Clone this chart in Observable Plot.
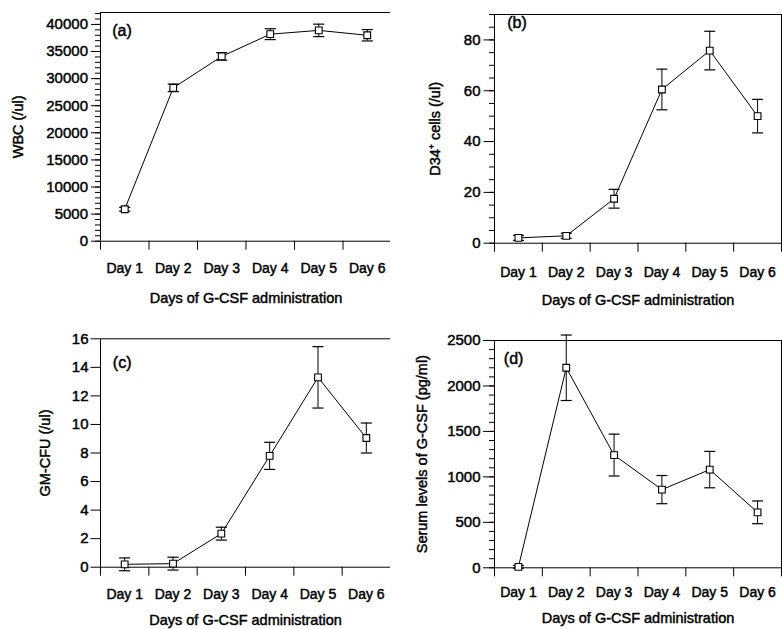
<!DOCTYPE html>
<html>
<head>
<meta charset="utf-8">
<script src="https://cdn.jsdelivr.net/npm/d3@7"></script>
<script src="https://cdn.jsdelivr.net/npm/@observablehq/plot@0.6"></script>
<style>
  html, body { margin: 0; padding: 0; background: #fff; }
  #chart { position: relative; width: 782px; height: 629px; background: #fff; overflow: hidden; }
  #chart > div { position: absolute; }
  #chart svg { overflow: visible; }
  #chart svg text { stroke: black; stroke-width: 0.45px; }
</style>
</head>
<body>
<div id="chart"></div>
<script>
// ---- data ----
const days = ["Day 1", "Day 2", "Day 3", "Day 4", "Day 5", "Day 6"];

const wbc    = [5900, 28300, 34100, 38200, 38900, 38000];
const wbcErr = [350, 700, 700, 1000, 1150, 1050];

const cd34    = [2.1, 2.9, 17.5, 60.5, 75.8, 50];
const cd34Err = [1.0, 1.0, 3.7, 8.0, 7.6, 6.6];

const gmcfu    = [0.2, 0.25, 2.35, 7.8, 13.3, 9.05];
const gmcfuErr = [0.45, 0.45, 0.45, 0.95, 2.15, 1.05];

const gcsf    = [10, 2200, 1240, 860, 1080, 610];
const gcsfErr = [15, 360, 230, 155, 200, 125];

const wbcTicks  = [0, 5000, 10000, 15000, 20000, 25000, 30000, 35000, 40000];
const cd34Ticks = [0, 20, 40, 60, 80];
const gmTicks   = [0, 2, 4, 6, 8, 10, 12, 14, 16];
const gcsfTicks = [0, 500, 1000, 1500, 2000, 2500];

const xTitle = "Days of G-CSF administration";

const font = "'Liberation Sans', Arial, Helvetica, sans-serif";

function panel(cfg) {
  const data = days.map((d, i) => ({day: d, x: i + 0.5, v: cfg.values[i], e: cfg.errs[i]}));
  const cap = 0.115;
  const marks = [
    Plot.frame({stroke: "black", strokeWidth: 1}),
    // minor y ticks
    ...(cfg.minor ? [Plot.axisY({ticks: cfg.minor, tickSize: 5, tickFormat: () => "", label: null})] : []),
    // major y ticks
    Plot.axisY({ticks: cfg.major, tickSize: cfg.tickSize, tickPadding: cfg.tickPad, tickFormat: d3.format("d"), label: null, fontSize: 15}),
    // x tick marks at band boundaries
    Plot.axisX({ticks: d3.range(0, days.length + 1), tickSize: 9, tickFormat: () => "", label: null}),
    // x category labels at band centers
    Plot.axisX({ticks: days.map((d, i) => i + 0.5), tickFormat: t => days[Math.floor(t)], tickSize: 0, tickPadding: cfg.xPad, label: null, fontSize: 14}),
    // error bars
    Plot.ruleX(data, {x: "x", y1: d => d.v - d.e, y2: d => d.v + d.e, stroke: "black", strokeWidth: 1}),
    Plot.link(data, {x1: d => d.x - cap, x2: d => d.x + cap, y1: d => d.v + d.e, y2: d => d.v + d.e, stroke: "black", strokeWidth: 1.2}),
    Plot.link(data, {x1: d => d.x - cap, x2: d => d.x + cap, y1: d => d.v - d.e, y2: d => d.v - d.e, stroke: "black", strokeWidth: 1.2}),
    // line and markers
    Plot.line(data, {x: "x", y: "v", stroke: "black", strokeWidth: 1}),
    Plot.dot(data, {x: "x", y: "v", symbol: "square", r: 3.8, fill: "white", stroke: "black", strokeWidth: 1.1}),
    // titles
    Plot.text([xTitle], {frameAnchor: "bottom", dy: cfg.titleDy, lineAnchor: "middle", fontSize: 14.5}),
    Plot.text([cfg.label], {frameAnchor: "left", dx: cfg.labelDx, rotate: -90, textAnchor: "middle", lineAnchor: "middle", fontSize: 14.5}),
    Plot.text([cfg.letter], {frameAnchor: "top-left", dx: cfg.letterDx, dy: cfg.letterDy, textAnchor: "start", lineAnchor: "middle", fontSize: 16})
  ];
  const svg = Plot.plot({
    width: cfg.width,
    height: cfg.height,
    marginLeft: cfg.ml, marginRight: cfg.mr, marginTop: cfg.mt, marginBottom: cfg.mb,
    x: {type: "linear", domain: [0, days.length]},
    y: {type: "linear", domain: cfg.domain},
    style: {fontFamily: font, fontSize: "14px", color: "black", background: "white", overflow: "visible"},
    marks
  });
  const wrap = document.createElement("div");
  wrap.style.left = cfg.left + "px";
  wrap.style.top = cfg.top + "px";
  wrap.appendChild(svg);
  document.getElementById("chart").appendChild(wrap);
}

panel({
  left: 0, top: 0, width: 400, height: 310, ml: 100, mr: 9, mt: 12, mb: 69.3,
  values: wbc, errs: wbcErr, domain: [0, 42200],
  major: wbcTicks, minor: d3.range(0, 42001, 1000), tickSize: 9, tickPad: 3.5,
  xPad: 22, titleDy: 57, label: "WBC (/ul)", labelDx: -82, letter: "(a)", letterDx: 11.7, letterDy: 18.7
});

panel({
  left: 390, top: 0, width: 392, height: 310, ml: 104, mr: 1, mt: 14, mb: 67.3,
  values: cd34, errs: cd34Err, domain: [0, 90],
  major: cd34Ticks, minor: d3.range(0, 91, 5), tickSize: 10.5, tickPad: 3.5,
  xPad: 24, titleDy: 57, label: "D34\u207A cells (/ul)", labelDx: -59, letter: "(b)", letterDx: 12.7, letterDy: 8.7
});

panel({
  left: 0, top: 310, width: 400, height: 319, ml: 100, mr: 10, mt: 28.3, mb: 62.3,
  values: gmcfu, errs: gmcfuErr, domain: [0, 16],
  major: gmTicks, minor: null, tickSize: 9.5, tickPad: 2.5,
  xPad: 21.5, titleDy: 53, label: "GM-CFU (/ul)", labelDx: -55, letter: "(c)", letterDx: 12.3, letterDy: 24.4
});

panel({
  left: 390, top: 310, width: 392, height: 319, ml: 104, mr: 1, mt: 30, mb: 61.7,
  values: gcsf, errs: gcsfErr, domain: [0, 2500],
  major: gcsfTicks, minor: d3.range(0, 2501, 100), tickSize: 11, tickPad: 3,
  xPad: 19, titleDy: 51, label: "Serum levels of G-CSF (pg/ml)", labelDx: -72, letter: "(d)", letterDx: 9.3, letterDy: 18.3
});
</script>
</body>
</html>
